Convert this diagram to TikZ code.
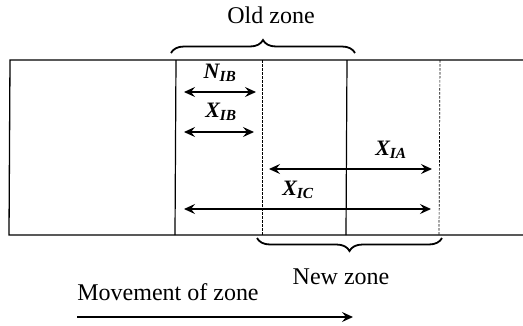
\documentclass[tikz,border=0pt]{standalone}
\usepackage{fontspec}
\setmainfont{Liberation Serif}
\usetikzlibrary{arrows.meta,decorations.pathreplacing}
\begin{document}
\begin{tikzpicture}[x=1pt,y=-1pt,
  frame/.style={line width=1.3pt},
  divider/.style={line width=1.2pt},
  dashdiv/.style={line width=0.7pt,dash pattern=on 2.5pt off 1.5pt},
  tip/.tip={Stealth[length=11pt,width=10pt,inset=4pt]},
  dim/.style={line width=1.2pt,tip-tip},
  lab/.style={font=\fontsize{22}{26}\selectfont\bfseries\itshape, inner sep=0pt},
  captext/.style={font=\fontsize{24}{28}\selectfont, inner sep=0pt},
  zbrace/.style={decorate,decoration={brace,amplitude=13pt},line width=1.8pt}]
\useasboundingbox (0,0) rectangle (523,325);
% frame
\coordinate (tl) at (10,60);
\coordinate (bl) at (9,235);
\coordinate (tr) at (523,60);
\coordinate (br) at (523,235);
\draw[frame] (tr) -- (tl) -- (bl) -- (br);
% dividers
\coordinate (s1t) at (176,60); \coordinate (s1b) at (175,235);
\coordinate (d1t) at (262,60); \coordinate (d1b) at (262,235);
\coordinate (s2t) at (347,60); \coordinate (s2b) at (346,235);
\coordinate (d2t) at (440,60); \coordinate (d2b) at (439,235);
\draw[divider] (s1t) -- (s1b);
\draw[divider] (s2t) -- (s2b);
\draw[dashdiv] (d1t) -- (d1b);
\draw[dashdiv] (d2t) -- (d2b);
% dimension arrows
\coordinate (n1) at (184,92); \coordinate (n2) at (256,92);
\coordinate (b1) at (184,132); \coordinate (b2) at (254,132);
\coordinate (a1) at (269,169); \coordinate (a2) at (432,169);
\coordinate (c1) at (184,209); \coordinate (c2) at (431,209);
\draw[dim] (n1) -- (n2);
\draw[dim] (b1) -- (b2);
\draw[dim] (a1) -- (a2);
\draw[dim] (c1) -- (c2);
\node[lab] (nib) at (220,73) {N\textsubscript{IB}};
\node[lab] (xib) at (221,112) {X\textsubscript{IB}};
\node[lab] (xia) at (391,150) {X\textsubscript{IA}};
\node[lab] (xic) at (298,190) {X\textsubscript{IC}};
% braces
\coordinate (o1) at (171,53); \coordinate (o2) at (355,53);
\draw[zbrace] (o1) -- (o2);
\node[captext] (old) at (271,15) {Old zone};
\coordinate (w1) at (442,238); \coordinate (w2) at (257,238);
\draw[zbrace] (w1) -- (w2);
\node[captext] (new) at (341,277) {New zone};
% movement
\node[captext] (mov) at (168,292) {Movement of zone};
\coordinate (m1) at (77,317); \coordinate (m2) at (353,317);
\draw[line width=1.3pt,-tip] (m1) -- (m2);
\end{tikzpicture}
\end{document}
